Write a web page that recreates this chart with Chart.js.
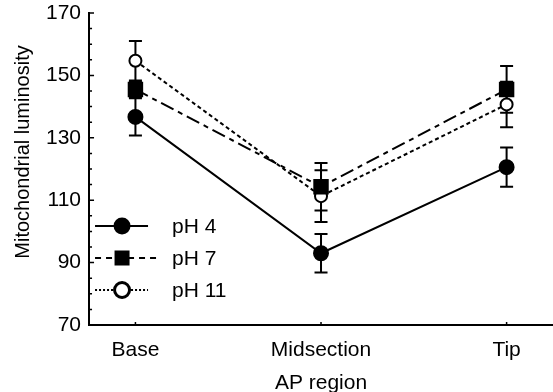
<!DOCTYPE html>
<html>
<head>
<meta charset="utf-8">
<script src="https://cdn.jsdelivr.net/npm/chart.js@4/dist/chart.umd.min.js"></script>
<style>
  html, body { margin: 0; background: #fff; }
  #wrap { width: 553px; height: 392px; }
</style>
</head>
<body>
<div id="wrap"><canvas id="chart"></canvas></div>
<script>
// valeurs
const categories = ['Base', 'Midsection', 'Tip'];
const seriesNames = ['pH 4', 'pH 7', 'pH 11'];
const ph4 = [136.7, 93.0, 120.6];
const ph4Err = [6.0, 6.2, 6.3];
const ph7 = [145.5, 114.3, 145.5];
const ph7Err = [2.5, 7.6, 7.5];
const ph11 = [154.7, 111.3, 140.7];
const ph11Err = [6.3, 8.3, 7.3];
const yTicks = [70, 90, 110, 130, 150, 170];

const FONT = 'Liberation Sans, Arial, Helvetica, sans-serif';

function toPoints(values) {
  return values.map((v, i) => ({ x: i, y: v }));
}

const errors = [ph4Err, ph7Err, ph11Err];

// barres d'erreur, sous les marqueurs
const errorBars = {
  id: 'errorBars',
  beforeDatasetsDraw(chart) {
    const ctx = chart.ctx;
    const xs = chart.scales.x, ys = chart.scales.y;
    ctx.save();
    ctx.strokeStyle = '#000';
    ctx.lineWidth = 2;
    chart.data.datasets.forEach((ds, i) => {
      ds.data.forEach((p, j) => {
        const x = xs.getPixelForValue(p.x);
        const top = ys.getPixelForValue(p.y + errors[i][j]);
        const bot = ys.getPixelForValue(p.y - errors[i][j]);
        ctx.beginPath();
        ctx.moveTo(x, top); ctx.lineTo(x, bot);
        ctx.moveTo(x - 6.5, top); ctx.lineTo(x + 6.5, top);
        ctx.moveTo(x - 6.5, bot); ctx.lineTo(x + 6.5, bot);
        ctx.stroke();
      });
    });
    ctx.restore();
  }
};

// graduations vers l'intérieur, légende et titre de l'axe y
const decorations = {
  id: 'decorations',
  afterDraw(chart) {
    const ctx = chart.ctx;
    const xs = chart.scales.x, ys = chart.scales.y;
    const area = chart.chartArea;
    ctx.save();
    ctx.strokeStyle = '#000';
    ctx.lineWidth = 1.5;
    ctx.beginPath();
    for (let v = 70; v <= 170; v += 5) {
      const y = ys.getPixelForValue(v);
      const len = yTicks.includes(v) ? 5 : 3;
      ctx.moveTo(area.left, y); ctx.lineTo(area.left + len, y);
    }
    categories.forEach((c, i) => {
      const x = xs.getPixelForValue(i);
      ctx.moveTo(x, area.bottom); ctx.lineTo(x, area.bottom - 3);
    });
    ctx.stroke();

    // titre y
    ctx.fillStyle = '#000';
    ctx.font = '20px ' + FONT;
    ctx.textAlign = 'center';
    ctx.textBaseline = 'middle';
    ctx.translate(23, (area.top + area.bottom) / 2 - 17);
    ctx.rotate(-Math.PI / 2);
    ctx.fillText('Mitochondrial luminosity', 0, 0);
    ctx.restore();

    // légende
    ctx.save();
    const rows = [area.bottom - 99, area.bottom - 67, area.bottom - 35];
    const x0 = area.left + 6;
    const dashes = [[], [6, 5], [2, 2]];
    const ends = [x0 + 53, x0 + 64, x0 + 53];
    rows.forEach((y, i) => {
      ctx.strokeStyle = '#000';
      ctx.lineWidth = 2;
      ctx.setLineDash(dashes[i]);
      ctx.beginPath();
      ctx.moveTo(x0, y); ctx.lineTo(ends[i], y);
      ctx.stroke();
      ctx.setLineDash([]);
      const mx = x0 + 27;
      if (i === 0) {
        ctx.fillStyle = '#000';
        ctx.beginPath(); ctx.arc(mx, y, 8.5, 0, Math.PI * 2); ctx.fill();
      } else if (i === 1) {
        ctx.fillStyle = '#000';
        ctx.fillRect(mx - 7.5, y - 7.5, 15, 15);
      } else {
        ctx.fillStyle = '#fff';
        ctx.lineWidth = 3;
        ctx.beginPath(); ctx.arc(mx, y, 7.5, 0, Math.PI * 2); ctx.fill(); ctx.stroke();
      }
      ctx.fillStyle = '#000';
      ctx.font = '21px ' + FONT;
      ctx.textAlign = 'left';
      ctx.textBaseline = 'middle';
      ctx.fillText(seriesNames[i], x0 + 77, y + 1);
    });
    ctx.restore();
  }
};

new Chart(document.getElementById('chart'), {
  type: 'line',
  data: {
    datasets: [
      {
        label: seriesNames[0],
        data: toPoints(ph4),
        borderColor: '#000',
        borderWidth: 2,
        pointStyle: 'circle',
        pointRadius: 7,
        pointBackgroundColor: '#000',
        pointBorderColor: '#000'
      },
      {
        label: seriesNames[1],
        data: toPoints(ph7),
        borderColor: '#000',
        borderWidth: 2,
        borderDash: [14, 5, 5, 5],
        pointStyle: 'rect',
        pointRadius: 9.5,
        pointBackgroundColor: '#000',
        pointBorderColor: '#000'
      },
      {
        label: seriesNames[2],
        data: toPoints(ph11),
        borderColor: '#000',
        borderWidth: 2,
        borderDash: [4, 3],
        pointStyle: 'circle',
        pointRadius: 6,
        pointBorderWidth: 2,
        pointBackgroundColor: '#fff',
        pointBorderColor: '#000'
      }
    ]
  },
  options: {
    responsive: true,
    maintainAspectRatio: false,
    animation: false,
    layout: { autoPadding: false, padding: { left: 38, right: 0, top: 0, bottom: 0 } },
    scales: {
      x: {
        type: 'linear',
        min: -0.25,
        max: 2.25,
        afterBuildTicks(axis) { axis.ticks = categories.map((c, i) => ({ value: i })); },
        afterFit(axis) { axis.height = 67; axis.paddingRight = 0; axis.paddingLeft = 0; },
        ticks: {
          color: '#000',
          padding: 13,
          font: { family: FONT, size: 21 },
          callback: (v) => categories[v]
        },
        grid: { display: false, drawTicks: false },
        border: { display: true, color: '#000', width: 2 },
        title: {
          display: true,
          text: 'AP region',
          color: '#000',
          font: { family: FONT, size: 21 },
          padding: { top: 10, bottom: -4 }
        }
      },
      y: {
        min: 70,
        max: 170,
        afterBuildTicks(axis) { axis.ticks = yTicks.map(v => ({ value: v })); },
        afterFit(axis) { axis.paddingTop = 13; axis.paddingBottom = 0; },
        ticks: {
          color: '#000',
          padding: 8,
          font: { family: FONT, size: 21 }
        },
        grid: { display: false, drawTicks: false },
        border: { display: true, color: '#000', width: 2 }
      }
    },
    plugins: {
      legend: { display: false },
      tooltip: { enabled: false }
    }
  },
  plugins: [errorBars, decorations]
});
</script>
</body>
</html>
